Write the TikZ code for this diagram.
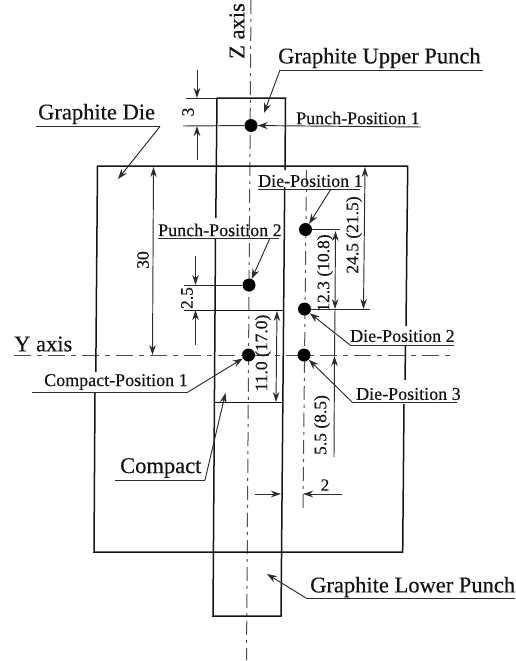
\documentclass[tikz,border=0pt]{standalone}
\usepackage{fontspec}
\setmainfont{Liberation Serif}[BoldFont={Liberation Serif},BoldFeatures={FakeBold=0.35}]
\usetikzlibrary{arrows.meta}
\definecolor{ink}{gray}{0.08}
\tikzset{
  x=1pt,y=-1pt,
  every node/.style={text=ink,inner sep=0pt},
  outline/.style={draw=ink,line width=1.5pt},
  thinline/.style={draw=ink!90,line width=0.95pt},
  axisline/.style={draw=ink!75,line width=1pt,dash pattern=on 17pt off 6pt on 5pt off 6pt},
  dieaxis/.style={draw=ink!75,line width=1pt,dash pattern=on 14pt off 5pt on 3pt off 5pt},
  leader/.style={thinline,-{Stealth[length=10pt,width=7pt]}},
  dimline/.style={thinline,-{Stealth[length=10pt,width=6.5pt]}},
  dimboth/.style={thinline,{Stealth[length=10pt,width=6.5pt]}-{Stealth[length=10pt,width=6.5pt]}},
  bigtext/.style={font=\fontsize{22.5}{24}\selectfont\bfseries},
  smalltext/.style={font=\fontsize{18}{20}\selectfont\bfseries},
  vsmall/.style={font=\fontsize{17.5}{20}\selectfont\bfseries,rotate=90},
  posdot/.style={circle,fill=black,minimum size=13pt},
}
\begin{document}
\begin{tikzpicture}
\useasboundingbox[fill=white] (0,0) rectangle (515,661);
% axes
\coordinate (ztop) at (251,0);
\coordinate (zbot) at (246.5,660);
\coordinate (yl) at (14,355);
\coordinate (yr) at (454,355);
\coordinate (datop) at (306.5,170);
\coordinate (dabot) at (303,508);
\draw[axisline] (yl) -- (yr);
\draw[dieaxis] (ztop) -- (zbot);
\draw[dieaxis] (datop) -- (dabot);
% die
\coordinate (dtl) at (97.5,166);
\coordinate (dtr) at (407.7,166);
\coordinate (dbr) at (402.7,552);
\coordinate (dbl) at (94,552);
\draw[outline] (95.8,372) -- (dtl) -- (dtr) -- (406,326);
\draw[outline] (405.5,345) -- (405,380);
\draw[outline] (404,404) -- (dbr) -- (dbl) -- (95,393);
% punch
\coordinate (ptl) at (217,98);
\coordinate (ptr) at (285.5,98);
\coordinate (pbr) at (281,616);
\coordinate (pbl) at (213,616);
\draw[outline] (215.8,218) -- (ptl) -- (ptr) -- (285,170);
\draw[outline] (284.7,187) -- (pbr) -- (pbl) -- (215.5,238);
% compact
\coordinate (ctl) at (184,310.3);
\coordinate (ctr) at (283,310.3);
\coordinate (cbl) at (215,402.3);
\coordinate (cbr) at (282,402.3);
\draw[outline] (ctl) -- (ctr);
\draw[outline] (cbl) -- (cbr);
% position dots
\node[posdot] (pp1) at (251,125.5) {};
\node[posdot] (pp2) at (249,285) {};
\node[posdot] (cp1) at (248.5,355) {};
\node[posdot] (dp1) at (305.5,229.5) {};
\node[posdot] (dp2) at (304.5,309) {};
\node[posdot] (dp3) at (304,355) {};
% extension lines
\coordinate (e3a) at (186,98);
\coordinate (e3b) at (183,126);
\draw[thinline] (e3a) -- (ptl);
\draw[thinline] (e3b) -- (pp1);
\coordinate (e25) at (184,285);
\draw[thinline] (e25) -- (pp2);
\coordinate (ed1) at (340,229.5);
\coordinate (ed2) at (370,309);
\draw[thinline] (dp1) -- (ed1);
\draw[thinline] (dp2) -- (ed2);
% dimension 3
\coordinate (d3a) at (197,70);
\coordinate (d3b) at (197,98);
\coordinate (d3c) at (197,160);
\coordinate (d3d) at (197,126);
\draw[dimline] (d3a) -- (d3b);
\draw[dimline] (d3c) -- (d3d);
\node[vsmall] (t3) at (188,112) {3};
% dimension 2.5
\coordinate (d25a) at (195.5,256);
\coordinate (d25b) at (195.5,285);
\coordinate (d25c) at (195.5,345);
\coordinate (d25d) at (195.5,310);
\draw[dimline] (d25a) -- (d25b);
\draw[dimline] (d25c) -- (d25d);
\node[vsmall] (t25) at (187,298) {2.5};
% dimension 30
\coordinate (d30a) at (153.5,167);
\coordinate (d30b) at (152.5,355);
\draw[dimboth] (d30a) -- (d30b);
\node[vsmall] (t30) at (143,260) {30};
% dimension 11.0
\coordinate (d11a) at (277,311);
\coordinate (d11b) at (276,402);
\draw[dimboth] (d11a) -- (d11b);
\node[vsmall] (t11) at (263,353) {11.0 (17.0)};
% dimension 24.5
\coordinate (d24a) at (365,167);
\coordinate (d24b) at (363.5,309);
\draw[dimboth] (d24a) -- (d24b);
\node[vsmall] (t24) at (354,235) {24.5 (21.5)};
% dimension 12.3 and 5.5
\coordinate (d12a) at (335.5,231);
\coordinate (d12b) at (335,309);
\coordinate (d55a) at (334,457);
\coordinate (d55b) at (334.5,356);
\draw[dimboth] (d12a) -- (d12b);
\draw[dimline] (d55a) -- (d55b);
\draw[thinline] (d12b) -- (d55b);
\node[vsmall] (t12) at (325,273) {12.3 (10.8)};
\node[vsmall] (t55) at (322,425) {5.5 (8.5)};
% dimension 2
\coordinate (d2a) at (255,494);
\coordinate (d2b) at (281,494);
\coordinate (d2c) at (342,494);
\coordinate (d2d) at (303,494);
\draw[dimline] (d2a) -- (d2b);
\draw[dimline] (d2c) -- (d2d);
\node[font=\fontsize{17}{20}\selectfont\bfseries] (t2) at (325,485) {2};
% labels
\node[bigtext,rotate=90] (lz) at (237,31) {Z axis};
\node[bigtext,anchor=west] (ly) at (14,344) {Y axis};
\node[bigtext,anchor=west] (lgd) at (38,114) {Graphite Die};
\node[bigtext,anchor=west] (lup) at (278,58) {Graphite Upper Punch};
\node[bigtext,anchor=west] (llp) at (310,587) {Graphite Lower Punch};
\node[bigtext,anchor=west] (lc) at (120,468) {Compact};
\node[smalltext,anchor=west] (lpp1) at (296,118) {Punch-Position 1};
\node[smalltext,anchor=west] (lpp2) at (158,230) {Punch-Position 2};
\node[smalltext,anchor=west] (ldp1) at (258,181) {Die-Position 1};
\node[smalltext,anchor=west] (ldp2) at (350,336) {Die-Position 2};
\node[smalltext,anchor=west] (ldp3) at (356,394) {Die-Position 3};
\node[smalltext,anchor=west] (lcp1) at (44,382) {Compact-Position 1};
% underlines and leaders
\coordinate (ugda) at (36,126.5);   \coordinate (ugdb) at (160,126.5);
\coordinate (gdtip) at (118,179);
\draw[thinline] (ugda) -- (ugdb);
\draw[leader] (ugdb) -- (gdtip);
\coordinate (uupa) at (280,70);     \coordinate (uupb) at (483,70);
\coordinate (uptip) at (264,113);
\draw[thinline] (uupb) -- (uupa);
\draw[leader] (uupa) -- (uptip);
\coordinate (ulpa) at (306,598);    \coordinate (ulpb) at (515,598);
\coordinate (lptip) at (267,574);
\draw[thinline] (ulpb) -- (ulpa);
\draw[leader] (ulpa) -- (lptip);
\coordinate (upp1) at (421,127);
\draw[leader] (upp1) -- (pp1);
\coordinate (upp2a) at (158,238);   \coordinate (upp2b) at (279,238);
\coordinate (upp2c) at (270,238);
\draw[thinline] (upp2a) -- (upp2b);
\draw[leader] (upp2c) -- (pp2);
\coordinate (ud1a) at (258,189);    \coordinate (ud1b) at (360,189);
\coordinate (ud1c) at (331,189);
\draw[thinline] (ud1a) -- (ud1b);
\draw[leader] (ud1c) -- (dp1);
\coordinate (ud2a) at (350,345);    \coordinate (ud2b) at (454,345);
\draw[thinline] (ud2a) -- (ud2b);
\draw[leader] (ud2a) -- (dp2);
\coordinate (ud3a) at (352,402);    \coordinate (ud3b) at (457,402);
\draw[thinline] (ud3a) -- (ud3b);
\draw[leader] (ud3a) -- (dp3);
\coordinate (ucp1a) at (32,392);    \coordinate (ucp1b) at (188,392);
\draw[thinline] (ucp1a) -- (ucp1b);
\draw[leader] (ucp1b) -- (cp1);
\coordinate (uca) at (115,480);     \coordinate (ucb) at (205,480);
\coordinate (ctip) at (225.5,393);
\draw[thinline] (uca) -- (ucb);
\draw[leader] (ucb) -- (ctip);
\end{tikzpicture}
\end{document}
